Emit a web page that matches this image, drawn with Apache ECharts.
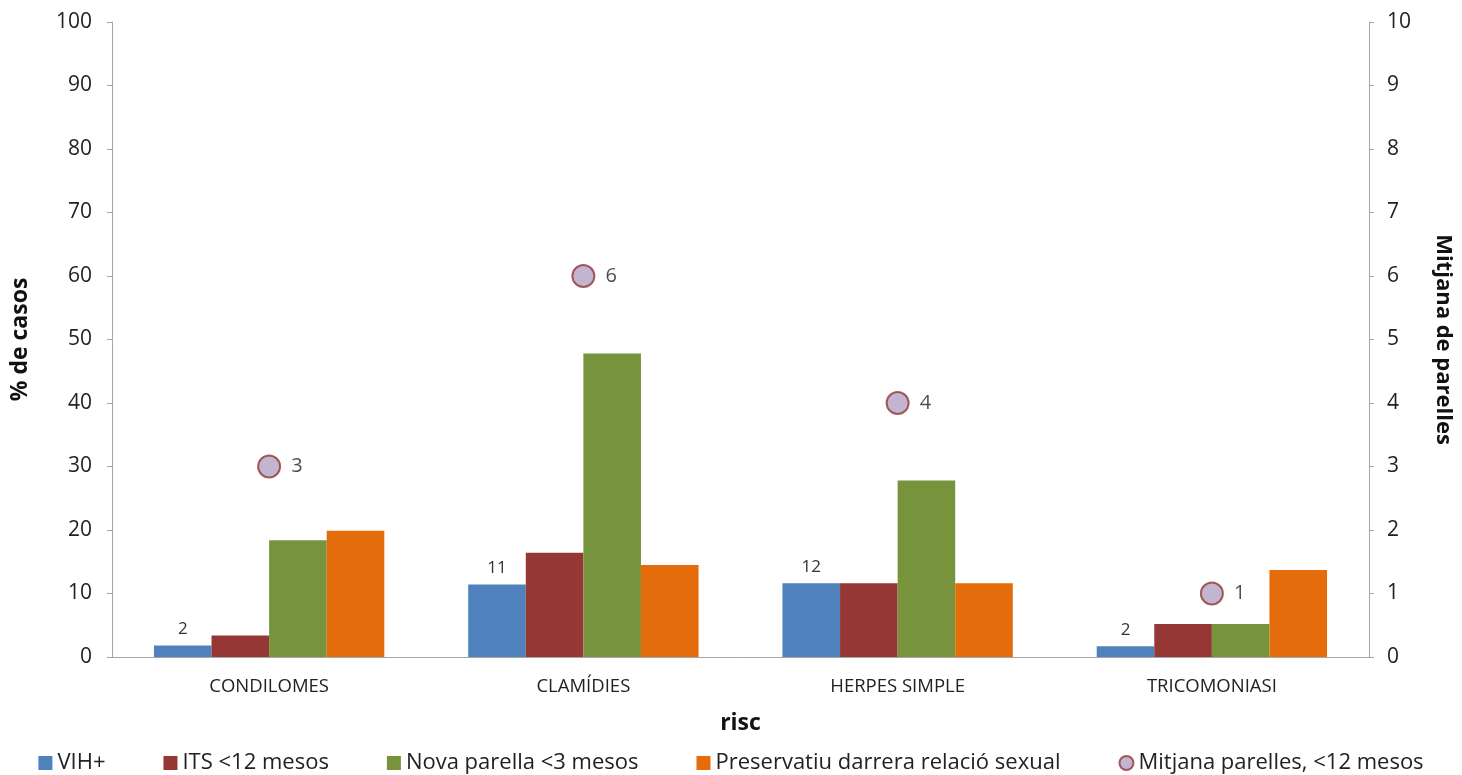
<!DOCTYPE html>
<html><head><meta charset="utf-8">
<script src="https://cdn.jsdelivr.net/npm/echarts@6/dist/echarts.min.js"></script>
<style>html,body{margin:0;padding:0;background:#fff}#c{width:1462px;height:775px}</style>
</head><body><div id="c"></div>
<script>
const categories = ['CONDILOMES', 'CLAMÍDIES', 'HERPES SIMPLE', 'TRICOMONIASI'];
const vih = [1.8, 11.4, 11.6, 1.7];
const vihLabels = ['2', '11', '12', '2'];
const its = [3.4, 16.4, 11.6, 5.2];
const nova = [18.4, 47.8, 27.8, 5.2];
const preservatiu = [19.9, 14.5, 11.6, 13.7];
const mitjana = [3, 6, 4, 1];
const leftTicks = [0, 10, 20, 30, 40, 50, 60, 70, 80, 90, 100];
const rightTicks = [0, 1, 2, 3, 4, 5, 6, 7, 8, 9, 10];

const FONT = '"Open Sans", sans-serif';
const chart = echarts.init(document.getElementById('c'), null, {renderer: 'canvas'});
const axisLine = {show: true, lineStyle: {color: '#A6A6A6', width: 1}};
const barSeries = (name, data, color, extra) => Object.assign({
  name, type: 'bar', data, yAxisIndex: 0, barGap: '0%', barCategoryGap: '26.7%',
  itemStyle: {color}
}, extra || {});

chart.setOption({
  animation: false,
  textStyle: {fontFamily: FONT},
  grid: {left: 112, right: 90, top: 22, bottom: 118, containLabel: false},
  legend: {
    bottom: -4, left: 'center', itemGap: 58, itemWidth: 14, itemHeight: 14, itemTextGap: 4,
    textStyle: {fontFamily: FONT, fontSize: 22, color: '#222'},
    data: [
      {name: 'VIH+', icon: 'rect'},
      {name: 'ITS <12 mesos', icon: 'rect'},
      {name: 'Nova parella <3 mesos', icon: 'rect'},
      {name: 'Preservatiu darrera relació sexual', icon: 'rect'},
      {name: 'Mitjana parelles, <12 mesos', icon: 'circle'}
    ]
  },
  xAxis: {
    type: 'category', data: categories,
    name: 'risc', nameLocation: 'middle', nameGap: 55,
    nameTextStyle: {fontFamily: FONT, fontSize: 23, fontWeight: 'bold', color: '#111'},
    axisLine, axisTick: {show: false},
    axisLabel: {fontFamily: FONT, fontSize: 18.5, color: '#222', margin: 20}
  },
  yAxis: [
    {
      type: 'value', min: 0, max: 100, interval: 10, position: 'left',
      name: '% de casos', nameLocation: 'middle', nameGap: 80, nameRotate: 90,
      nameTextStyle: {fontFamily: FONT, fontSize: 23, fontWeight: 'bold', color: '#111'},
      axisLine, axisTick: {show: true, length: 5, lineStyle: {color: '#A6A6A6'}},
      splitLine: {show: false},
      axisLabel: {fontFamily: FONT, fontSize: 21, color: '#222', margin: 20,
        formatter: v => leftTicks.includes(v) ? String(v) : ''}
    },
    {
      type: 'value', min: 0, max: 10, interval: 1, position: 'right',
      name: 'Mitjana de parelles', nameLocation: 'middle', nameGap: 63, nameRotate: -90,
      nameTextStyle: {fontFamily: FONT, fontSize: 22, fontWeight: 'bold', color: '#111'},
      axisLine, axisTick: {show: true, length: 5, lineStyle: {color: '#A6A6A6'}},
      splitLine: {show: false},
      axisLabel: {fontFamily: FONT, fontSize: 21, color: '#222', margin: 18,
        formatter: v => rightTicks.includes(v) ? String(v) : ''}
    }
  ],
  series: [
    barSeries('VIH+', vih, '#4F81BD', {
      label: {show: true, position: 'top', distance: 8, fontFamily: FONT, fontSize: 17, color: '#333',
        formatter: p => vihLabels[p.dataIndex]}
    }),
    barSeries('ITS <12 mesos', its, '#953735'),
    barSeries('Nova parella <3 mesos', nova, '#77933C'),
    barSeries('Preservatiu darrera relació sexual', preservatiu, '#E46C0A'),
    {
      name: 'Mitjana parelles, <12 mesos', type: 'scatter', yAxisIndex: 1, data: mitjana,
      symbol: 'circle', symbolSize: 22, z: 5,
      itemStyle: {color: '#B3A2C7', borderColor: '#953735', borderWidth: 2},
      label: {show: true, position: 'right', distance: 10, fontFamily: FONT, fontSize: 20, color: '#222',
        formatter: p => String(mitjana[p.dataIndex])}
    }
  ]
});
</script></body></html>
